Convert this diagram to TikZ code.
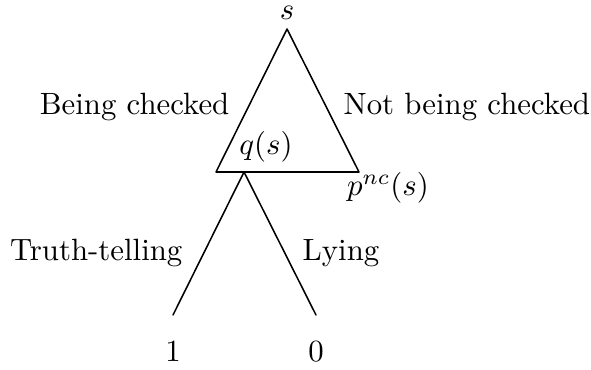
\documentclass[tikz,border=0pt]{standalone}
\usepackage{amsmath,amssymb}
\usetikzlibrary{positioning}

\begin{document}
\begin{tikzpicture}[line cap=round,line join=round,x=0.3247pt,y=-0.3247pt,
  lbl/.style={inner sep=1pt}]
\useasboundingbox (0,0) rectangle (591,369);
% vertices
\coordinate (top) at (287,29);
\coordinate (lft) at (216,172);
\coordinate (rgt) at (359,172);
\coordinate (mid) at (244,172);
\coordinate (tt) at (173,315);
\coordinate (ly) at (316,315);
\draw [line width=0.5pt] (top)-- (lft)-- (rgt)-- cycle;
\draw [line width=0.5pt] (mid)-- (tt);
\draw [line width=0.5pt] (mid)-- (ly);
% labels
\node [lbl,inner sep=0pt] (sl) at (287,13) {$s$};
\node [lbl,anchor=east] (bc) at (233,107) {Being checked};
\node [lbl,anchor=west] (nbc) at (340,107) {Not being checked};
\node [lbl] (ql) at (266,147) {$q(s)$};
\node [lbl] (pl) at (388,188) {$p^{nc}(s)$};
\node [lbl,anchor=east] (ttl) at (186,253) {Truth-telling};
\node [lbl,anchor=west] (lyl) at (299,253) {Lying};
\node [lbl] (one) at (173,352) {$1$};
\node [lbl] (zero) at (316,352) {$0$};
\end{tikzpicture}
\end{document}
